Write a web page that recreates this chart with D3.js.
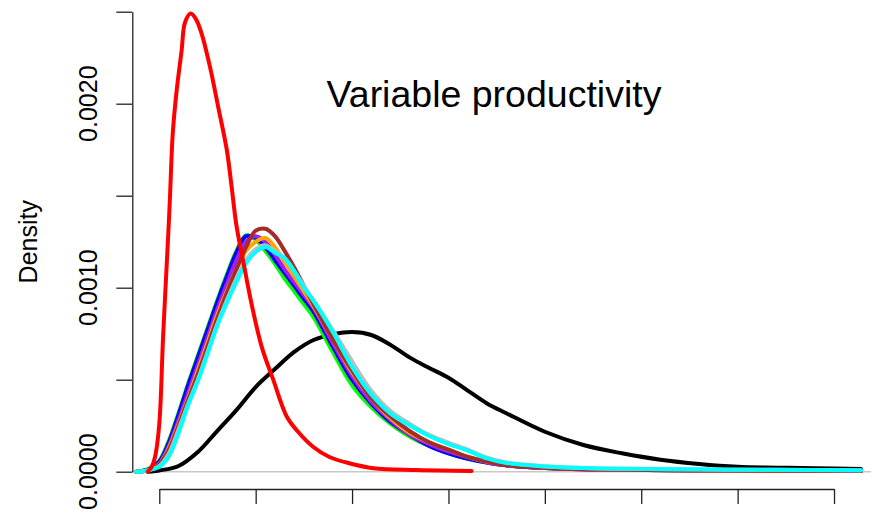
<!DOCTYPE html>
<html>
<head>
<meta charset="utf-8">
<script src="https://cdn.jsdelivr.net/npm/d3@7"></script>
<style>
  html, body { margin: 0; padding: 0; background: #fff; }
  svg { display: block; }
  text { font-family: "Liberation Sans", Arial, sans-serif; fill: #000; }
</style>
</head>
<body>
<svg id="chart" width="871" height="513"></svg>
<script>
// ---- data ----
const titleText = "Variable productivity";
const yAxisTitle = "Density";
const yTickValues = [0, 0.0005, 0.001, 0.0015, 0.002, 0.0025];
const yTickLabels = ["0.0000", "", "0.0010", "", "0.0020", ""];
const xTickValues = [0, 500, 1000, 1500, 2000, 2500, 3000, 3500];

// shared x grid for the cluster of similar curves
const clusterX = [-120, -100, -50, 0, 50, 100, 150, 200, 250, 300, 350, 400, 450, 500, 550, 600, 650, 700, 750, 800, 900, 1000, 1100, 1200, 1300, 1400, 1500, 1600, 1700, 1800, 2000, 2200, 2400, 2800, 3200, 3640];

const greenY  = [0, 0.000003, 0.000018, 0.00006, 0.00017, 0.00032, 0.00048, 0.00063, 0.00078, 0.00093, 0.00107, 0.0012, 0.001285, 0.00126, 0.0012, 0.00113, 0.00105, 0.00098, 0.00091, 0.00084, 0.00065, 0.00047, 0.00035, 0.00026, 0.00019, 0.00014, 0.0001, 0.00007, 0.00005, 0.000035, 0.00002, 0.000014, 0.00001, 0.000007, 0.000005, 0.000004];
const blueY   = [0, 0.000002, 0.000015, 0.000055, 0.00016, 0.00031, 0.00047, 0.00062, 0.00077, 0.00092, 0.00106, 0.00119, 0.00128, 0.00127, 0.00122, 0.00115, 0.00108, 0.00101, 0.00094, 0.00087, 0.00068, 0.0005, 0.00037, 0.00027, 0.0002, 0.00014, 0.0001, 0.00007, 0.00005, 0.000035, 0.00002, 0.000013, 0.00001, 0.000007, 0.000005, 0.000004];
const purpleY = [0, 0.000001, 0.000012, 0.000045, 0.00014, 0.00028, 0.00043, 0.00058, 0.00073, 0.00088, 0.00102, 0.00115, 0.00125, 0.00128, 0.00125, 0.00118, 0.0011, 0.00103, 0.00096, 0.00089, 0.0007, 0.00052, 0.00038, 0.00028, 0.0002, 0.00015, 0.00011, 0.00008, 0.00005, 0.000035, 0.00002, 0.000013, 0.00001, 0.000007, 0.000005, 0.000004];
const orangeY = [0, 0.000001, 0.00001, 0.00004, 0.00013, 0.00026, 0.0004, 0.00055, 0.0007, 0.00085, 0.00098, 0.0011, 0.0012, 0.00125, 0.00127, 0.00122, 0.00114, 0.00106, 0.00098, 0.0009, 0.00072, 0.00054, 0.0004, 0.00029, 0.00021, 0.00016, 0.00012, 0.00008, 0.000055, 0.000038, 0.000022, 0.000014, 0.00001, 0.000007, 0.000005, 0.000004];
const brownY  = [0, 0.000001, 0.00001, 0.00004, 0.00012, 0.00025, 0.00039, 0.00053, 0.00068, 0.00083, 0.00097, 0.0011, 0.00122, 0.00131, 0.00132, 0.00128, 0.0012, 0.00111, 0.00101, 0.00091, 0.00072, 0.00055, 0.0004, 0.0003, 0.00022, 0.00016, 0.00012, 0.00008, 0.000055, 0.000035, 0.00002, 0.000013, 0.00001, 0.000007, 0.000005, 0.000004];
const grayY   = [0, 0.000001, 0.00001, 0.00003, 0.0001, 0.00023, 0.00037, 0.0005, 0.00065, 0.0008, 0.00093, 0.00105, 0.00115, 0.00121, 0.00123, 0.0012, 0.00116, 0.00109, 0.00101, 0.00093, 0.00077, 0.0006, 0.00044, 0.00033, 0.00026, 0.0002, 0.000158, 0.00012, 0.000076, 0.00005, 0.00003, 0.00002, 0.000016, 0.000012, 0.00001, 0.000008];
const cyanY   = [0, 0.000001, 0.00001, 0.000026, 0.000085, 0.00021, 0.000363, 0.000493, 0.00064, 0.000792, 0.000917, 0.001031, 0.001134, 0.001194, 0.001221, 0.00119, 0.00116, 0.00109, 0.001, 0.00093, 0.00076, 0.00057, 0.00042, 0.000316, 0.000251, 0.000194, 0.00015, 0.000115, 0.000072, 0.000047, 0.000028, 0.00002, 0.000016, 0.000013, 0.00001, 0.000008];

const blackX = [-60, 0, 100, 200, 300, 400, 500, 600, 700, 800, 900, 1000, 1100, 1200, 1300, 1400, 1500, 1600, 1700, 1800, 2000, 2200, 2400, 2600, 2800, 3000, 3200, 3400, 3640];
const blackY = [0, 0.000007, 0.000031, 0.000107, 0.000221, 0.000335, 0.00046, 0.000558, 0.000651, 0.000716, 0.000746, 0.000759, 0.000743, 0.000689, 0.00062, 0.000564, 0.000511, 0.000441, 0.000371, 0.000318, 0.000217, 0.000145, 0.0001, 0.000065, 0.000042, 0.000027, 0.000022, 0.000019, 0.000015];

const redX = [-60, -40, -22, 0, 20, 47, 55, 70, 90, 116, 133, 163, 190, 220, 263, 306, 350, 375, 400, 436, 479, 531, 591, 661, 713, 799, 882, 985, 1110, 1335, 1620];
const redY = [0, 0.000025, 0.00008, 0.00026, 0.00074, 0.0013, 0.00148, 0.00184, 0.00207, 0.00229, 0.00244, 0.00249, 0.00246, 0.00238, 0.0022, 0.00198, 0.00175, 0.00155, 0.00134, 0.00114, 0.00091, 0.00068, 0.0005, 0.0003, 0.000225, 0.000134, 0.00008, 0.000046, 0.000019, 0.000009, 0.000004];

// drawing order (later on top) and colours
const seriesNames  = ["black", "green", "blue", "purple", "orange", "brown", "gray", "cyan", "red"];
const seriesColors = ["#000000", "#00FF00", "#0000FF", "#A020F0", "#FFA500", "#A52A2A", "#BEBEBE", "#00FFFF", "#FF0000"];

// ---- build series ----
const zip = (xs, ys) => xs.map((x, i) => [x, ys[i]]);
const seriesData = [
  zip(blackX, blackY),
  zip(clusterX, greenY),
  zip(clusterX, blueY),
  zip(clusterX, purpleY),
  zip(clusterX, orangeY),
  zip(clusterX, brownY),
  zip(clusterX, grayY),
  zip(clusterX, cyanY),
  zip(redX, redY)
];

// ---- layout ----
const W = 871, H = 513;
const plotLeft = 132.3, plotRight = 861.0, plotTop = 11.7, plotBottom = 471.7;
const svg = d3.select("#chart");

const x = d3.scaleLinear().domain([-140, 3640]).range([plotLeft, plotRight]);
const y = d3.scaleLinear().domain([0, 0.0025]).range([plotBottom, plotTop]);

// zero line (gray)
svg.append("line")
  .attr("x1", plotLeft).attr("x2", W)
  .attr("y1", y(0)).attr("y2", y(0))
  .attr("stroke", "#C8C8C8").attr("stroke-width", 1.5);

// density lines
const line = d3.line()
  .x(d => x(d[0]))
  .y(d => y(Math.max(0, d[1])))
  .curve(d3.curveCatmullRom.alpha(0.5));

svg.append("g").selectAll("path")
  .data(seriesData)
  .join("path")
  .attr("d", line)
  .attr("fill", "none")
  .attr("stroke", (d, i) => seriesColors[i])
  .attr("stroke-width", 4)
  .attr("stroke-linejoin", "round")
  .attr("stroke-linecap", "round");

// y axis
const yAxis = d3.axisLeft(y)
  .tickValues(yTickValues)
  .tickSize(16)
  .tickSizeOuter(0)
  .tickFormat("");
const gy = svg.append("g")
  .attr("transform", `translate(${plotLeft},0)`)
  .call(yAxis);
gy.selectAll("path, line").attr("stroke", "#222").attr("stroke-width", 1.3);

// y tick labels (rotated, like R's default las=0)
svg.append("g").selectAll("text")
  .data(yTickValues.map((v, i) => ({ v, label: yTickLabels[i] })).filter(d => d.label !== ""))
  .join("text")
  .attr("transform", d => `translate(97,${y(d.v)}) rotate(-90)`)
  .attr("text-anchor", "middle")
  .attr("font-size", 25)
  .text(d => d.label);

// x axis (ticks only, labels fall below the picture)
const xAxis = d3.axisBottom(x)
  .tickValues(xTickValues)
  .tickSize(15)
  .tickSizeOuter(0)
  .tickFormat("");
const gx = svg.append("g")
  .attr("transform", `translate(0,489)`)
  .call(xAxis);
gx.select(".domain").remove();
gx.append("line")
  .attr("x1", x(xTickValues[0]) + 0.5)
  .attr("x2", x(xTickValues[xTickValues.length - 1]) + 0.5)
  .attr("y1", 0.5).attr("y2", 0.5);
gx.selectAll("line").attr("stroke", "#222").attr("stroke-width", 1.3);

// axis title
svg.append("text")
  .attr("transform", `translate(37,${(plotTop + plotBottom) / 2}) rotate(-90)`)
  .attr("text-anchor", "middle")
  .attr("font-size", 25)
  .text(yAxisTitle);

// title inside the plot
svg.append("text")
  .attr("x", 494)
  .attr("y", 107)
  .attr("text-anchor", "middle")
  .attr("font-size", 37.5)
  .text(titleText);
</script>
</body>
</html>
